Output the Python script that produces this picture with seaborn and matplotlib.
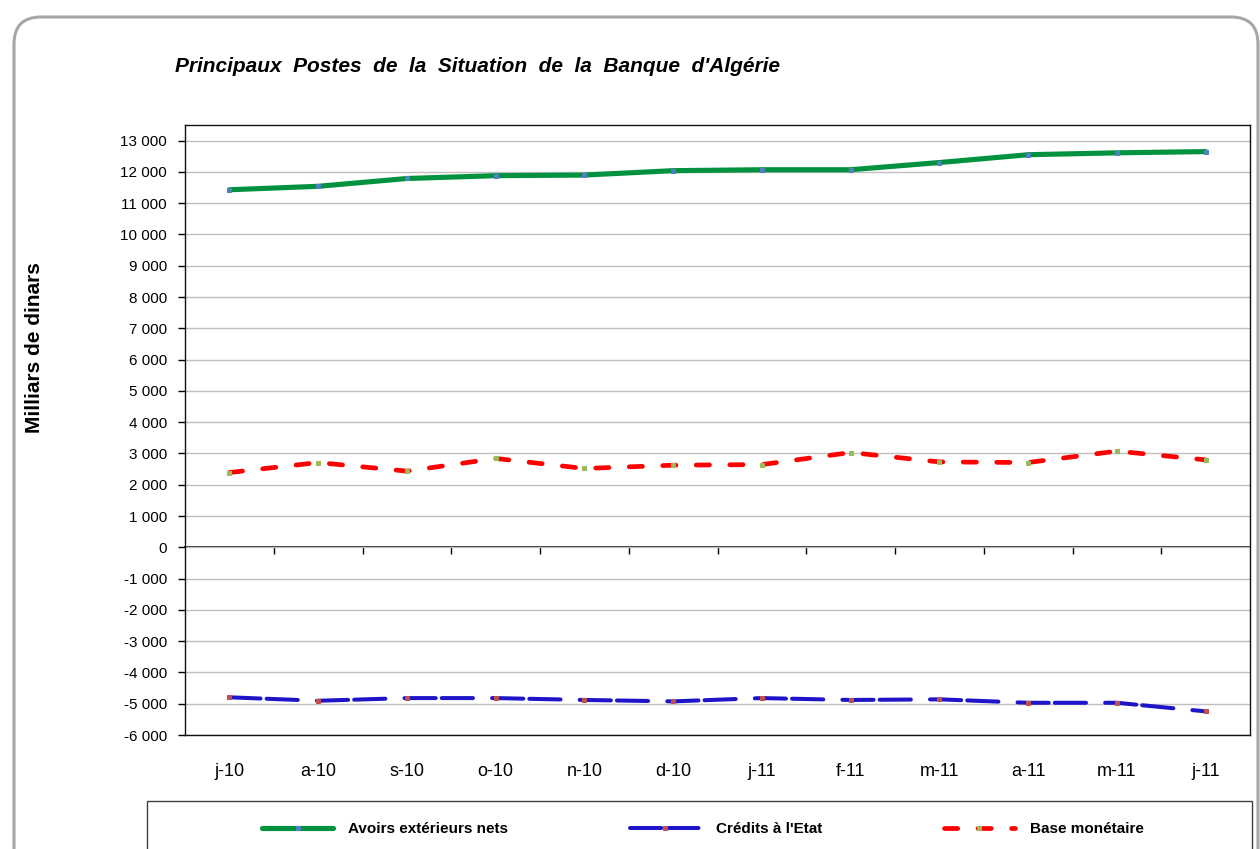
import numpy as np
import pandas as pd
import matplotlib.pyplot as plt
import seaborn as sns
from matplotlib.patches import FancyBboxPatch, Rectangle
from matplotlib.ticker import FuncFormatter, MultipleLocator

sns.set_theme(style="white")
plt.rcParams["font.family"] = ["Liberation Sans", "DejaVu Sans"]
plt.rcParams["text.color"] = "black"

# données (milliards de dinars)
mois = ["j-10", "a-10", "s-10", "o-10", "n-10", "d-10",
        "j-11", "f-11", "m-11", "a-11", "m-11", "j-11"]
avoirs_exterieurs = [11430, 11540, 11790, 11880, 11900, 12040,
                     12070, 12070, 12300, 12550, 12610, 12650]
credits_etat = [-4795, -4905, -4820, -4820, -4880, -4925,
                -4820, -4880, -4860, -4970, -4970, -5245]
base_monetaire = [2390, 2710, 2435, 2840, 2520, 2625,
                  2645, 3030, 2730, 2710, 3075, 2795]

df = pd.DataFrame({
    "pos": np.arange(len(mois)),
    "Avoirs extérieurs nets": avoirs_exterieurs,
    "Crédits à l'Etat": credits_etat,
    "Base monétaire": base_monetaire,
})

styles = {
    "Avoirs extérieurs nets": dict(color="#00923F", linewidth=3.7, linestyle="-",
                                   solid_capstyle="round", mfc="#4F81BD"),
    "Crédits à l'Etat": dict(color="#1E14C8", linewidth=2.9,
                             linestyle=(0, (7.75, 1.5, 7.75, 4.75)),
                             dash_capstyle="round", mfc="#C0504D"),
    "Base monétaire": dict(color="#FF0000", linewidth=3.4,
                           linestyle=(0, (2.8, 4.3)),
                           dash_capstyle="round", mfc="#9BBB59"),
}

fig = plt.figure(figsize=(12.6, 8.49), dpi=100)
W, H = 1260, 849
ax = fig.add_axes([185 / W, 1 - 735 / H, (1250 - 185) / W, (735 - 125) / H])

for nom, st in styles.items():
    st = dict(st)
    mfc = st.pop("mfc")
    sns.lineplot(data=df, x="pos", y=nom, ax=ax, label=nom, legend=False,
                 marker="s", markersize=2.5, markerfacecolor=mfc,
                 markeredgecolor=mfc, **st)

ymin, ymax = -6000, 13500
ax.set_ylim(ymin, ymax)
ax.set_xlim(-0.5, len(mois) - 0.5)
ax.yaxis.set_major_locator(MultipleLocator(1000))
ax.yaxis.set_major_formatter(FuncFormatter(lambda v, p: f"{int(v):,}".replace(",", " ")))
ax.set_xticks(df["pos"])
ax.set_xticklabels(mois)
ax.tick_params(axis="y", left=True, length=5, width=1, color="black",
               pad=8, labelsize=11, labelcolor="black")
ax.tick_params(axis="x", bottom=False, length=0, pad=20, labelsize=13,
               labelcolor="black")
ax.set_xlabel("")
ax.set_ylabel("")
ax.yaxis.grid(True, color="#C0C0C0", linewidth=1)
ax.set_axisbelow(True)
for sp in ax.spines.values():
    sp.set_color("#101010")
    sp.set_linewidth(1)

# axe des abscisses sur la ligne zéro
sec = ax.secondary_xaxis((0 - ymin) / (ymax - ymin))
sec.set_xticks(np.arange(0.5, len(mois) - 1, 1))
sec.tick_params(bottom=True, length=5, width=1, color="black", labelbottom=False)
sec.spines["bottom"].set_color("black")
sec.spines["bottom"].set_linewidth(1.2)

fig.text(175 / W, 1 - 67 / H, "Principaux  Postes  de  la  Situation  de  la  Banque  d'Algérie",
         ha="left", va="center", fontsize=15, fontweight="bold", style="italic")
fig.text(35 / W, 1 - 348 / H, "Milliars de dinars", rotation=90,
         ha="center", va="center", fontsize=15, fontweight="bold")

handles, labels = ax.get_legend_handles_labels()
fig.legend(handles, labels, loc="center", bbox_to_anchor=(0.558, 1 - 829 / H),
           ncol=3, frameon=False, handlelength=4.6, handletextpad=1.0,
           columnspacing=8, prop=dict(weight="bold", size=11))

fig.add_artist(Rectangle((147 / W, -0.05), (1252 - 147) / W, 0.05 + (849 - 801) / H,
                         transform=fig.transFigure, fill=False,
                         edgecolor="#404040", linewidth=1))
fig.add_artist(FancyBboxPatch((0.14, -0.5), 12.44, 8.49 - 0.17 + 0.5,
                              boxstyle="round,pad=0,rounding_size=0.27",
                              transform=fig.dpi_scale_trans, fill=False,
                              edgecolor="#A6A6A6", linewidth=2.2))

fig.savefig("out.png", dpi=100)
